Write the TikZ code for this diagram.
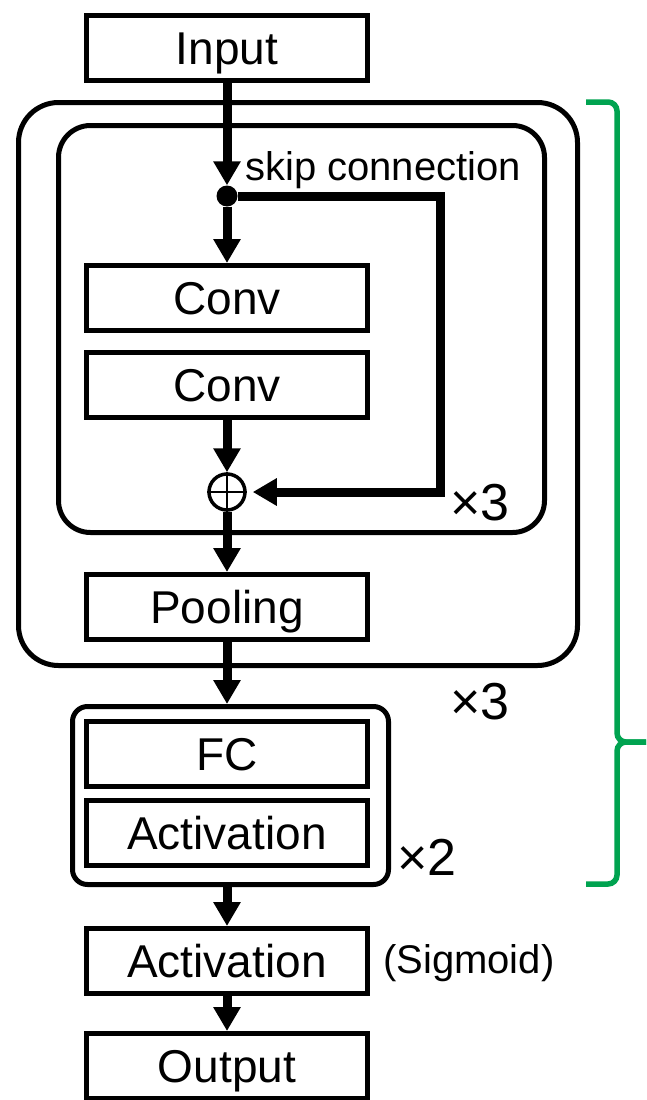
\documentclass[tikz,border=0pt]{standalone}
\usepackage{fontspec}
\setmainfont{Liberation Sans}
\usetikzlibrary{arrows.meta,positioning}
\definecolor{bracegreen}{RGB}{0,163,80}

\begin{document}
\begin{tikzpicture}[x=1pt,y=1pt,
	flow/.style={line width=9pt,-{Triangle[width=26pt,length=24pt]}},
	group/.style={draw,rectangle,line width=5pt,rounded corners=#1,inner sep=0pt},
	note/.style={anchor=base west,inner sep=0pt,font=\fontsize{#1}{#1}\selectfont}]

	\useasboundingbox (0,0) rectangle (646,-1100);

	% repeated blocks
	\node[group=40pt,minimum width=559pt,minimum height=563pt] (stage)    at (298,-384)     {};
	\node[group=32pt,minimum width=486pt,minimum height=407pt] (resblock) at (301.5,-329)   {};
	\node[group=15pt,minimum width=316pt,minimum height=178pt] (mlp)      at (230.5,-795.5) {};

	\begin{scope}[every node/.style={draw,rectangle,line width=5pt,minimum width=281pt,minimum height=65pt,inner sep=0pt,
			text height=33pt,text depth=0pt,font=\fontsize{46}{46}\selectfont}]
		\node (input)  at (227,-48)    {Input};
		\node (conv1)  at (227,-298)   {Conv};
		\node (conv2)  at (227,-384.5) {Conv};
		\node (pool)   at (227,-607)   {Pooling};
		\node (fc)     at (227,-753.5) {FC};
		\node (act)    at (227,-832.5) {Activation};
		\node (sigm)   at (227,-961)   {Activation};
		\node (output) at (227,-1066)  {Output};
	\end{scope}

	\node[circle,fill,minimum size=21pt,inner sep=0pt]             (split) at (227,-196) {};
	\node[circle,draw,line width=3.5pt,minimum size=36pt,inner sep=0pt] (sum) at (227,-492) {};
	\draw[line width=2.5pt] (sum.north) -- (sum.south) (sum.west) -- (sum.east);
	\coordinate (bend) at (440,-492);

	\node[note=40] (skiptext) at (245,-180) {skip connection};
	\node[note=52] (resrep)   at (450,-520) {×3};
	\node[note=52] (stagerep) at (450,-719) {×3};
	\node[note=52] (mlprep)   at (397,-875) {×2};
	\node[note=40] (sigmtext) at (383,-973) {(Sigmoid)};

	\draw[flow] (input) -- (split);
	\draw[flow] (split) -- (conv1);
	\draw[flow] (conv2) -- (sum);
	\draw[flow] (sum) -- (pool);
	\draw[flow] (pool) -- (pool |- mlp.north);
	\draw[flow] (mlp.south -| sigm) -- (sigm);
	\draw[flow] (sigm) -- (output);
	\draw[flow,shorten >=6pt] (split) -| (bend) -- (sum);

	% brace
	\coordinate (btop) at (586,-102);
	\coordinate (bbot) at (586,-884);
	\coordinate (btip) at (646,-742);
	\draw[bracegreen,line width=5.5pt,rounded corners=9pt] (btop) -- (617,-102) -- (617,-742) -- (btip);
	\draw[bracegreen,line width=5.5pt,rounded corners=9pt] (bbot) -- (617,-884) -- (617,-742) -- (btip);

\end{tikzpicture}
\end{document}
